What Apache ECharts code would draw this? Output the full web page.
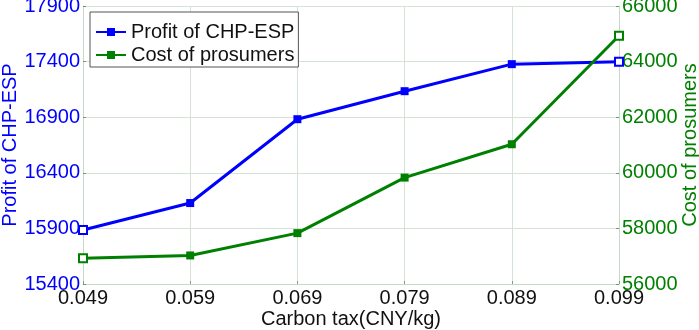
<!DOCTYPE html>
<html>
<head>
<meta charset="utf-8">
<script src="https://cdn.jsdelivr.net/npm/echarts@6/dist/echarts.min.js"></script>
<style>
  html, body { margin: 0; padding: 0; background: #fff; }
  #chart { width: 699px; height: 330px; }
</style>
</head>
<body>
<div id="chart"></div>
<script>
// carbon tax steps (CNY/kg)
const carbonTax = ['0.049', '0.059', '0.069', '0.079', '0.089', '0.099'];
const profitCHP = [15885, 16128, 16882, 17134, 17377, 17398];
const costProsumers = [56930, 57027, 57830, 59827, 61027, 64930];

const blue = '#0000ff';
const green = '#008000';
const font = 'Liberation Sans, Arial, sans-serif';
const plain = v => String(v);

// end markers look hollow in the original
const withEnds = (arr, color) => arr.map((v, i) =>
  (i === 0 || i === arr.length - 1)
    ? { value: v, itemStyle: { color: '#fff', borderColor: color, borderWidth: 2 } }
    : v);

const chart = echarts.init(document.getElementById('chart'));

const option = {
  animation: false,
  grid: { left: 83, right: 80, top: 6, bottom: 46, outerBoundsMode: 'none' },
  legend: {
    left: 90, top: 12,
    orient: 'vertical',
    itemWidth: 30, itemHeight: 10, itemGap: 3,
    padding: [10, 4, 2, 5],
    borderColor: '#555', borderWidth: 1,
    backgroundColor: '#fff',
    textStyle: { fontFamily: font, fontSize: 20, color: '#111' },
    data: ['Profit of CHP-ESP', 'Cost of prosumers']
  },
  xAxis: {
    type: 'category',
    data: carbonTax,
    boundaryGap: false,
    name: 'Carbon tax(CNY/kg)',
    nameLocation: 'middle',
    nameGap: 25,
    nameMoveOverlap: false,
    nameTextStyle: { fontFamily: font, fontSize: 20, color: '#111' },
    axisLine: { lineStyle: { color: '#c8d8c8' } },
    axisTick: { show: true, inside: true, length: 3, lineStyle: { color: '#8a9a8a' } },
    axisLabel: { fontFamily: font, fontSize: 20, color: '#111', margin: 4 },
    splitLine: { show: true, lineStyle: { color: '#d6e2d6' } }
  },
  yAxis: [
    {
      type: 'value',
      min: 15400, max: 17900, interval: 500,
      name: 'Profit of CHP-ESP',
      nameLocation: 'middle',
      nameGap: 63,
      nameMoveOverlap: false,
      nameTextStyle: { fontFamily: font, fontSize: 20, color: blue },
      axisLine: { show: true, lineStyle: { color: '#c8d8c8' } },
      axisTick: { show: true, inside: true, length: 3, lineStyle: { color: '#6a9a6a' } },
      axisLabel: { fontFamily: font, fontSize: 20, color: blue, margin: 3, formatter: plain },
      splitLine: { show: true, lineStyle: { color: '#d6e2d6' } }
    },
    {
      type: 'value',
      min: 56000, max: 66000, interval: 2000,
      name: 'Cost of prosumers',
      nameLocation: 'middle',
      nameGap: 61,
      nameRotate: 90,
      nameMoveOverlap: false,
      nameTextStyle: { fontFamily: font, fontSize: 20, color: green },
      axisLine: { show: true, lineStyle: { color: '#c8d8c8' } },
      axisTick: { show: true, inside: true, length: 3, lineStyle: { color: '#6a9a6a' } },
      axisLabel: { fontFamily: font, fontSize: 20, color: green, margin: 3, formatter: plain },
      splitLine: { show: false }
    }
  ],
  series: [
    {
      name: 'Profit of CHP-ESP',
      type: 'line',
      yAxisIndex: 0,
      data: withEnds(profitCHP, blue),
      symbol: 'rect', symbolSize: 8,
      lineStyle: { color: blue, width: 3 },
      itemStyle: { color: blue }
    },
    {
      name: 'Cost of prosumers',
      type: 'line',
      yAxisIndex: 1,
      data: withEnds(costProsumers, green),
      symbol: 'rect', symbolSize: 8,
      lineStyle: { color: green, width: 3 },
      itemStyle: { color: green }
    }
  ]
};

chart.setOption(option);
</script>
</body>
</html>
